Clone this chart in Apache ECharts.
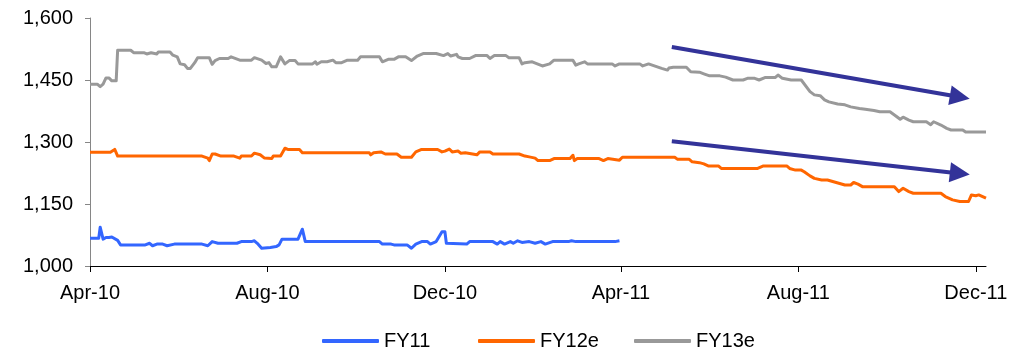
<!DOCTYPE html>
<html>
<head>
<meta charset="utf-8">
<script src="https://cdn.jsdelivr.net/npm/echarts@6/dist/echarts.min.js"></script>
<style>
  html, body { margin: 0; padding: 0; background: #ffffff; }
  #chart { width: 1027px; height: 352px; }
</style>
</head>
<body>
<div id="chart"></div>
<script>
// Consensus estimate paths, [date, value]
const fy11 = [
  ['2010-04-01',1067],['2010-04-07',1067],['2010-04-08',1094],['2010-04-10',1065],['2010-04-12',1069],
  ['2010-04-14',1069],['2010-04-16',1070],['2010-04-20',1062],['2010-04-22',1051],['2010-05-09',1051],
  ['2010-05-12',1055],['2010-05-14',1049],['2010-05-17',1053],['2010-05-21',1053],['2010-05-24',1049],
  ['2010-05-29',1053],['2010-06-17',1053],['2010-06-21',1049],['2010-06-24',1059],['2010-06-28',1055],
  ['2010-07-11',1055],['2010-07-14',1059],['2010-07-21',1059],['2010-07-23',1061],['2010-07-25',1055],
  ['2010-07-28',1043],['2010-08-03',1045],['2010-08-07',1047],['2010-08-09',1051],['2010-08-11',1065],
  ['2010-08-22',1065],['2010-08-25',1089],['2010-08-27',1059],['2010-10-17',1059],['2010-10-19',1053],
  ['2010-10-25',1053],['2010-10-27',1051],['2010-11-05',1051],['2010-11-08',1043],['2010-11-11',1053],
  ['2010-11-15',1059],['2010-11-19',1059],['2010-11-21',1053],['2010-11-25',1059],['2010-11-29',1083],
  ['2010-12-01',1083],['2010-12-02',1055],['2010-12-03',1053],['2010-12-16',1053],['2010-12-18',1059],
  ['2011-01-03',1059],['2011-01-06',1053],['2011-01-08',1059],['2011-01-11',1053],['2011-01-15',1059],
  ['2011-01-17',1055],['2011-01-20',1061],['2011-01-23',1057],['2011-01-28',1059],['2011-02-01',1055],
  ['2011-02-05',1059],['2011-02-08',1053],['2011-02-13',1059],['2011-02-24',1059],['2011-02-26',1061],
  ['2011-03-01',1059],['2011-03-28',1059],['2011-03-31',1061]
];

const fy12e = [
  ['2010-04-01',1275],['2010-04-15',1275],['2010-04-18',1282],['2010-04-20',1266],['2010-06-17',1266],
  ['2010-06-21',1261],['2010-06-22',1255],['2010-06-24',1271],['2010-06-26',1271],['2010-06-30',1266],
  ['2010-07-09',1266],['2010-07-13',1261],['2010-07-14',1266],['2010-07-21',1266],['2010-07-23',1273],
  ['2010-07-27',1269],['2010-07-30',1261],['2010-08-04',1260],['2010-08-05',1266],['2010-08-10',1266],
  ['2010-08-13',1285],['2010-08-15',1282],['2010-08-23',1282],['2010-08-25',1274],['2010-10-10',1274],
  ['2010-10-11',1269],['2010-10-13',1274],['2010-10-18',1276],['2010-10-21',1271],['2010-10-29',1271],
  ['2010-11-01',1263],['2010-11-08',1263],['2010-11-11',1276],['2010-11-15',1282],['2010-11-26',1282],
  ['2010-11-29',1276],['2010-12-01',1278],['2010-12-04',1283],['2010-12-06',1276],['2010-12-10',1278],
  ['2010-12-12',1273],['2010-12-15',1274],['2010-12-20',1271],['2010-12-23',1269],['2010-12-25',1276],
  ['2011-01-01',1276],['2011-01-03',1271],['2011-01-21',1271],['2011-01-25',1266],['2011-01-28',1264],
  ['2011-02-01',1261],['2011-02-03',1255],['2011-02-11',1255],['2011-02-14',1260],['2011-02-25',1260],
  ['2011-02-27',1268],['2011-02-28',1255],['2011-03-02',1260],['2011-03-17',1260],['2011-03-20',1255],
  ['2011-03-23',1260],['2011-03-24',1256],['2011-03-31',1256],['2011-04-02',1263],['2011-05-08',1263],
  ['2011-05-10',1258],['2011-05-18',1258],['2011-05-20',1252],['2011-05-25',1250],['2011-05-28',1247],
  ['2011-05-31',1242],['2011-06-07',1242],['2011-06-09',1236],['2011-07-04',1236],['2011-07-05',1232],
  ['2011-07-08',1242],['2011-07-24',1242],['2011-07-26',1236],['2011-07-30',1232],['2011-08-03',1232],
  ['2011-08-05',1228],['2011-08-09',1218],['2011-08-12',1212],['2011-08-17',1208],['2011-08-21',1208],
  ['2011-08-27',1202],['2011-09-02',1196],['2011-09-06',1196],['2011-09-08',1202],['2011-09-11',1198],
  ['2011-09-14',1192],['2011-10-06',1192],['2011-10-09',1180],['2011-10-12',1188],['2011-10-16',1180],
  ['2011-10-19',1176],['2011-11-07',1176],['2011-11-10',1168],['2011-11-15',1160],['2011-11-20',1156],
  ['2011-11-26',1156],['2011-11-28',1172],['2011-12-01',1170],['2011-12-03',1172],['2011-12-08',1164]
];

const fy13e = [
  ['2010-04-01',1440],['2010-04-06',1440],['2010-04-08',1434],['2010-04-10',1440],['2010-04-12',1455],
  ['2010-04-14',1455],['2010-04-16',1448],['2010-04-19',1448],['2010-04-20',1522],['2010-04-29',1522],
  ['2010-05-01',1516],['2010-05-08',1516],['2010-05-10',1513],['2010-05-13',1516],['2010-05-17',1513],
  ['2010-05-18',1518],['2010-05-26',1518],['2010-05-28',1510],['2010-05-31',1506],['2010-06-02',1489],
  ['2010-06-05',1487],['2010-06-07',1478],['2010-06-09',1478],['2010-06-12',1492],['2010-06-14',1504],
  ['2010-06-22',1504],['2010-06-24',1488],['2010-06-26',1497],['2010-06-29',1502],['2010-07-05',1502],
  ['2010-07-07',1506],['2010-07-13',1498],['2010-07-21',1498],['2010-07-23',1504],['2010-07-28',1498],
  ['2010-07-31',1490],['2010-08-02',1492],['2010-08-04',1482],['2010-08-07',1482],['2010-08-10',1506],
  ['2010-08-13',1489],['2010-08-16',1497],['2010-08-20',1497],['2010-08-22',1489],['2010-09-01',1489],
  ['2010-09-03',1494],['2010-09-04',1488],['2010-09-07',1494],['2010-09-11',1494],['2010-09-15',1498],
  ['2010-09-17',1492],['2010-09-21',1492],['2010-09-25',1498],['2010-10-02',1498],['2010-10-04',1506],
  ['2010-10-17',1506],['2010-10-19',1494],['2010-10-23',1500],['2010-10-27',1500],['2010-10-30',1506],
  ['2010-11-04',1506],['2010-11-08',1497],['2010-11-12',1508],['2010-11-16',1514],['2010-11-25',1514],
  ['2010-11-30',1509],['2010-12-03',1514],['2010-12-05',1508],['2010-12-09',1512],['2010-12-10',1506],
  ['2010-12-13',1502],['2010-12-18',1502],['2010-12-22',1509],['2010-12-30',1509],['2011-01-01',1502],
  ['2011-01-04',1509],['2011-01-12',1509],['2011-01-14',1504],['2011-01-21',1504],['2011-01-23',1489],
  ['2011-01-25',1492],['2011-01-30',1494],['2011-02-06',1484],['2011-02-11',1489],['2011-02-14',1498],
  ['2011-02-27',1498],['2011-03-01',1486],['2011-03-03',1489],['2011-03-07',1494],['2011-03-09',1489],
  ['2011-03-26',1489],['2011-03-28',1484],['2011-03-31',1489],['2011-04-14',1489],['2011-04-16',1484],
  ['2011-04-20',1489],['2011-04-24',1484],['2011-04-29',1478],['2011-05-03',1474],['2011-05-04',1479],
  ['2011-05-07',1481],['2011-05-16',1481],['2011-05-19',1470],['2011-05-25',1469],['2011-05-28',1465],
  ['2011-06-01',1460],['2011-06-08',1460],['2011-06-12',1457],['2011-06-17',1450],['2011-06-24',1450],
  ['2011-06-27',1454],['2011-07-02',1454],['2011-07-05',1450],['2011-07-09',1456],['2011-07-16',1456],
  ['2011-07-18',1462],['2011-07-21',1454],['2011-07-27',1450],['2011-08-03',1450],['2011-08-04',1446],
  ['2011-08-09',1422],['2011-08-12',1414],['2011-08-16',1412],['2011-08-19',1402],['2011-08-22',1397],
  ['2011-08-28',1392],['2011-09-02',1390],['2011-09-06',1385],['2011-09-12',1381],['2011-09-16',1379],
  ['2011-09-22',1376],['2011-09-26',1373],['2011-10-03',1373],['2011-10-07',1363],['2011-10-10',1355],
  ['2011-10-12',1360],['2011-10-16',1353],['2011-10-19',1349],['2011-10-28',1349],['2011-10-31',1342],
  ['2011-11-02',1349],['2011-11-07',1341],['2011-11-11',1333],['2011-11-14',1329],['2011-11-22',1329],
  ['2011-11-24',1324],['2011-12-08',1324]
];

const seriesNames = ['FY11', 'FY12e', 'FY13e'];
const seriesColors = ['#3366ff', '#ff6600', '#999999'];

// Axis ranges and tick dates
const xStart = '2010-04-01';
const xEnd = '2011-12-08';
const xTickDates = ['2010-04-01', '2010-08-01', '2010-12-01', '2011-04-01', '2011-08-01', '2011-12-01'];
const monthNames = ['Jan','Feb','Mar','Apr','May','Jun','Jul','Aug','Sep','Oct','Nov','Dec'];
const yMin = 1000, yMax = 1600, yStep = 150;

// Downward trend arrows, [date, value] endpoints
const trendArrowStarts = [['2011-05-06', 1530], ['2011-05-06', 1302]];
const trendArrowEnds = [['2011-11-20', 1409], ['2011-11-20', 1224]];

function toTime(s) {
  const p = s.split('-').map(Number);
  return new Date(p[0], p[1] - 1, p[2]).getTime();
}
function toPoints(rows) {
  return rows.map(r => [toTime(r[0]), r[1]]);
}

const FONT = '"Liberation Sans", Arial, sans-serif';
const chart = echarts.init(document.getElementById('chart'), null, { renderer: 'canvas' });

const arrowData = trendArrowStarts.map((s, i) => [
  { coord: [toTime(s[0]), s[1]] },
  { coord: [toTime(trendArrowEnds[i][0]), trendArrowEnds[i][1]] }
]);

const seriesData = [fy11, fy12e, fy13e];
const tickTimes = xTickDates.map(toTime);

// Legend entries sit in equal-width slots along the bottom
const legendSlotLeft = 322, legendSlotWidth = 156;
const legends = seriesNames.map((name, i) => ({
  left: legendSlotLeft + i * legendSlotWidth,
  top: 331,
  padding: 0,
  icon: 'roundRect',
  itemWidth: 57,
  itemHeight: 4,
  textStyle: { fontFamily: FONT, fontSize: 20, color: '#000000' },
  data: [name]
}));

chart.setOption({
  animation: false,
  backgroundColor: '#ffffff',
  grid: { left: 90, right: 41, top: 18, bottom: 86, containLabel: false },
  legend: legends,
  xAxis: {
    type: 'value',
    min: toTime(xStart),
    max: toTime(xEnd),
    scale: true,
    splitLine: { show: false },
    axisLine: { lineStyle: { color: '#000000', width: 1 } },
    axisTick: {
      length: 6,
      lineStyle: { color: '#000000' },
      customValues: tickTimes
    },
    axisLabel: {
      margin: 17,
      fontFamily: FONT,
      fontSize: 20,
      color: '#000000',
      customValues: tickTimes,
      formatter: v => {
        const d = new Date(v);
        return monthNames[d.getMonth()] + '-' + String(d.getFullYear()).slice(2);
      }
    }
  },
  yAxis: {
    type: 'value',
    min: yMin,
    max: yMax,
    interval: yStep,
    splitLine: { show: false },
    axisLine: { show: true, lineStyle: { color: '#868686', width: 1 } },
    axisTick: { show: true, length: 5, lineStyle: { color: '#868686' } },
    axisLabel: {
      margin: 17,
      fontFamily: FONT,
      fontSize: 20,
      color: '#000000',
      formatter: v => v.toLocaleString('en-US')
    }
  },
  series: seriesData.map((rows, i) => {
    const s = {
      name: seriesNames[i],
      type: 'line',
      data: toPoints(rows),
      symbol: 'none',
      color: seriesColors[i],
      lineStyle: { width: 3, color: seriesColors[i], join: 'round' },
      emphasis: { disabled: true },
      z: 2 + i
    };
    if (i === 2) {
      s.markLine = {
        silent: true,
        symbol: ['none', 'triangle'],
        symbolSize: 20,
        label: { show: false },
        emphasis: { disabled: true },
        itemStyle: { color: '#333399' },
        lineStyle: { color: '#333399', width: 4, type: 'solid' },
        data: arrowData
      };
    }
    return s;
  })
});
</script>
</body>
</html>
